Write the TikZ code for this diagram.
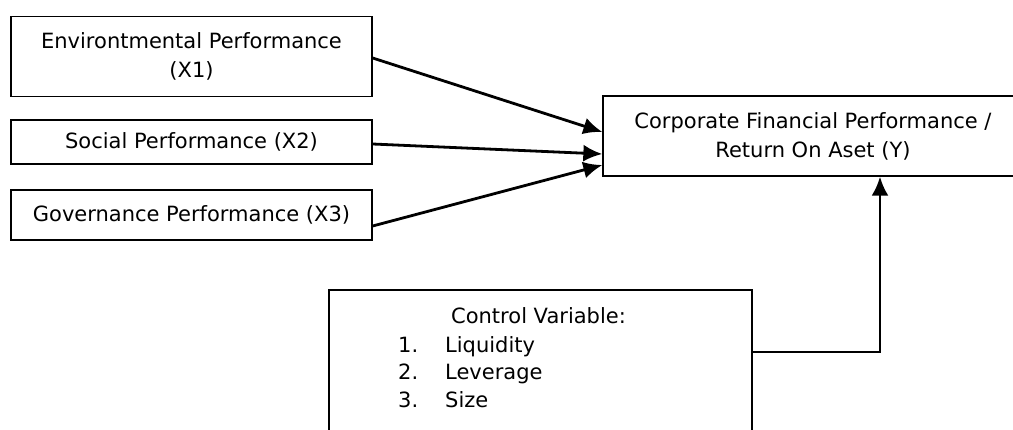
\documentclass[tikz,border=0pt]{standalone}
\usepackage{fontspec}
\setmainfont{DejaVu Sans}
\usepackage{tikz}
\usetikzlibrary{arrows.meta,positioning,calc}

\begin{document}
\begin{tikzpicture}[x=1pt, y=-1pt,
    font=\fontsize{21}{29}\selectfont,
    varbox/.style={rectangle, draw, line width=1.3pt, minimum width=361pt, align=center, inner sep=0pt},
    depbox/.style={rectangle, draw, line width=1.3pt, minimum width=420pt, minimum height=80pt, align=center, inner sep=0pt},
    ctlbox/.style={rectangle, draw, line width=1.3pt, minimum width=423pt, minimum height=160pt},
    line/.style={draw, -{Latex[length=19pt,width=17pt]}, line width=2.8pt}]

    \useasboundingbox (0,0) rectangle (1013,429);

    \node [varbox, minimum height=80pt] (env) at (191.5,56.5) {Environtmental Performance\\(X1)};
    \node [varbox, minimum height=44pt] (soc) at (191.5,142) {Social Performance (X2)};
    \node [varbox, minimum height=50pt] (gov) at (191.5,215) {Governance Performance (X3)};
    \node [depbox] (cfp) at (813,136) {Corporate Financial Performance /\\Return On Aset (Y)};

    \node [ctlbox] (ctl) at (540.5,370) {};
    \node [anchor=base, inner sep=0pt] (ctltitle) at (538.5,323) {Control Variable:};
    \node [anchor=base west, inner sep=0pt] (ctllist) at (398,352) {\begin{tabular}[t]{@{}p{47pt}@{}l@{}}
        1. & Liquidity\\[-1.5pt]
        2. & Leverage\\[-1.5pt]
        3. & Size
    \end{tabular}};

    \draw [line] ([yshift=-1.5pt]env.east) -- ([yshift=4pt]cfp.west);
    \draw [line] ([yshift=-2pt]soc.east) -- ([yshift=-18pt]cfp.west);
    \draw [line] ([yshift=-11pt]gov.east) -- ([yshift=-29pt]cfp.west);
    \draw [line] ([yshift=18pt]ctl.east) -| ([xshift=67pt]cfp.south);
\end{tikzpicture}
\end{document}
